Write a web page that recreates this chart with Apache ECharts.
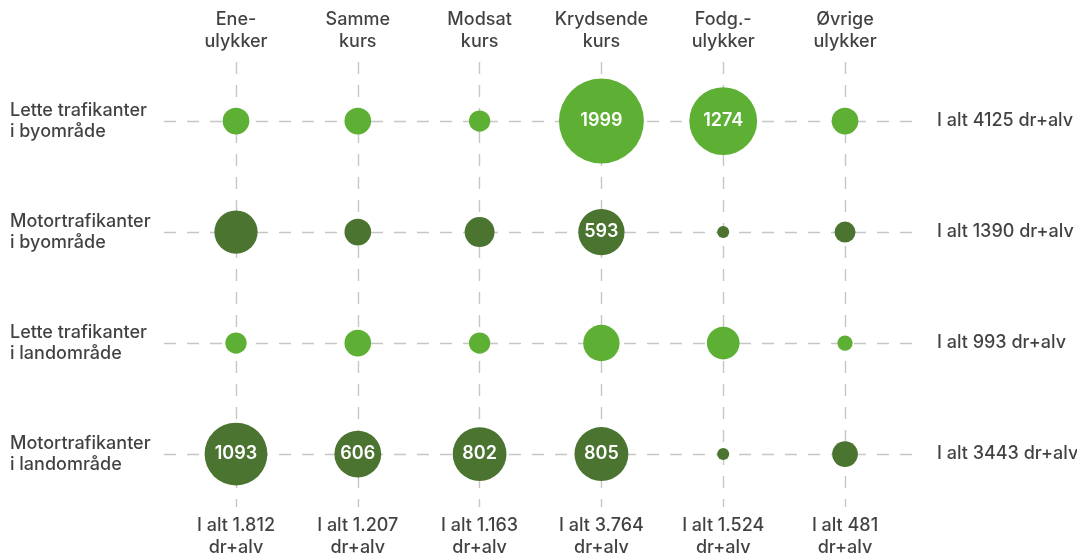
<!DOCTYPE html>
<html>
<head>
<meta charset="utf-8">
<script src="https://cdn.jsdelivr.net/npm/echarts@6/dist/echarts.min.js"></script>
<style>
  html, body { margin: 0; padding: 0; background: #fff; }
  #chart { width: 1077px; height: 556px; }
</style>
</head>
<body>
<div id="chart"></div>
<script>
// kolonner (ulykkestyper)
var columns = ['Ene-\nulykker', 'Samme\nkurs', 'Modsat\nkurs', 'Krydsende\nkurs', 'Fodg.-\nulykker', 'Øvrige\nulykker'];
var columnTotals = ['I alt 1.812\ndr+alv', 'I alt 1.207\ndr+alv', 'I alt 1.163\ndr+alv', 'I alt 3.764\ndr+alv', 'I alt 1.524\ndr+alv', 'I alt 481\ndr+alv'];

// rækker (trafikantgrupper)
var rows = ['Lette trafikanter\ni byområde', 'Motortrafikanter\ni byområde', 'Lette trafikanter\ni landområde', 'Motortrafikanter\ni landområde'];
var rowTotals = ['I alt 4125 dr+alv', 'I alt 1390 dr+alv', 'I alt 993 dr+alv', 'I alt 3443 dr+alv'];

// dræbte + alvorligt tilskadekomne pr. celle
var letteBy   = [197, 197, 126, 1999, 1274, 197];
var motorBy   = [519, 197, 249, 593, 40, 122];
var letteLand = [126, 197, 126, 367, 296, 65];
var motorLand = [1093, 606, 802, 805, 40, 183];
var values = [letteBy, motorBy, letteLand, motorLand];

var LIGHT = '#5db034';
var DARK = '#4a7430';
var TEXT = '#111111';
var FONT = 'Inter, "Noto Sans", sans-serif';

// akse-udstrækning, så gitterlinjerne rager lidt ud over kolonner/rækker
var X_MIN = -0.591, X_MAX = 5.632;
var Y_MIN = -0.532, Y_MAX = 3.477;

function bubbleSize(v) {
    return 1.9 * Math.sqrt(v);
}

var bubbleData = [];
values.forEach(function (row, j) {
    row.forEach(function (v, i) {
        bubbleData.push({
            value: [i, j, v],
            itemStyle: { color: j % 2 === 0 ? LIGHT : DARK, opacity: 1 },
            label: { show: v >= 590 }
        });
    });
});

var gridLines = [];
columns.forEach(function (c, i) { gridLines.push({ xAxis: i }); });
rows.forEach(function (r, j) { gridLines.push({ yAxis: j }); });

var textLabel = {
    show: true,
    color: TEXT,
    fontFamily: FONT,
    fontSize: 18,
    fontWeight: 500,
    lineHeight: 22
};

var chart = echarts.init(document.getElementById('chart'));
chart.setOption({
    animation: false,
    backgroundColor: '#fff',
    grid: { left: 164, right: 155, top: 62, bottom: 49 },
    xAxis: { type: 'value', min: X_MIN, max: X_MAX, show: false },
    yAxis: { type: 'value', min: Y_MIN, max: Y_MAX, inverse: true, show: false },
    series: [
        {
            name: 'gitter',
            type: 'scatter',
            data: [],
            z: 1,
            silent: true,
            markLine: {
                silent: true,
                z: 1,
                symbol: ['none', 'none'],
                label: { show: false },
                lineStyle: { color: '#c6c6c6', width: 1.4, type: [12, 11], opacity: 1 },
                data: gridLines
            }
        },
        {
            name: 'ulykker',
            type: 'scatter',
            z: 3,
            silent: true,
            data: bubbleData,
            symbolSize: function (val) { return bubbleSize(val[2]); },
            itemStyle: { opacity: 1 },
            label: {
                position: 'inside',
                color: '#fff',
                fontFamily: FONT,
                fontSize: 18,
                fontWeight: 600,
                formatter: function (p) { return p.value[2]; }
            }
        },
        {
            name: 'kolonner',
            type: 'scatter',
            z: 4,
            silent: true,
            symbolSize: 0,
            data: columns.map(function (c, i) { return [i, Y_MIN]; }),
            label: Object.assign({}, textLabel, {
                position: 'top',
                distance: 9,
                align: 'center',
                formatter: function (p) { return columns[p.dataIndex]; }
            })
        },
        {
            name: 'kolonnetotaler',
            type: 'scatter',
            z: 4,
            silent: true,
            symbolSize: 0,
            data: columnTotals.map(function (c, i) { return [i, Y_MAX]; }),
            label: Object.assign({}, textLabel, {
                position: 'bottom',
                distance: 8,
                align: 'center',
                formatter: function (p) { return columnTotals[p.dataIndex]; }
            })
        },
        {
            name: 'rækketotaler',
            type: 'scatter',
            z: 4,
            silent: true,
            symbolSize: 0,
            data: rowTotals.map(function (r, j) { return [X_MAX, j]; }),
            label: Object.assign({}, textLabel, {
                position: 'right',
                distance: 15,
                formatter: function (p) { return rowTotals[p.dataIndex]; }
            })
        },
        {
            name: 'rækker',
            type: 'scatter',
            z: 4,
            silent: true,
            symbolSize: 0,
            data: rows.map(function (r, j) { return [X_MIN, j]; }),
            label: {
                show: true,
                position: 'left',
                distance: 4,
                formatter: function (p) {
                    return rows[p.dataIndex].split('\n').map(function (s) {
                        return '{t|' + s + '}';
                    }).join('\n');
                },
                rich: {
                    t: {
                        width: 150,
                        align: 'left',
                        color: TEXT,
                        fontFamily: FONT,
                        fontSize: 18,
                        fontWeight: 500,
                        lineHeight: 21
                    }
                }
            }
        }
    ]
});
</script>
</body>
</html>
